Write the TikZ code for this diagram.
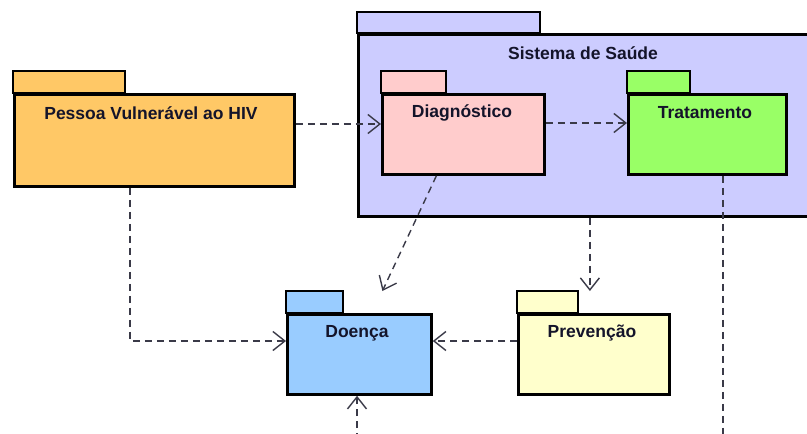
\documentclass[tikz,border=0pt]{standalone}
\usepackage{fontspec}
\setmainfont{Liberation Sans}
\usetikzlibrary{arrows.meta}

\definecolor{pkgOrange}{HTML}{FFC866}
\definecolor{pkgLilac}{HTML}{CCCCFF}
\definecolor{pkgPink}{HTML}{FFCCCC}
\definecolor{pkgGreen}{HTML}{99FF66}
\definecolor{pkgBlue}{HTML}{99CCFF}
\definecolor{pkgCream}{HTML}{FFFFCC}
\definecolor{inkDark}{HTML}{14142A}
\definecolor{depLine}{HTML}{3A3A48}

\tikzset{
  pkgbody/.style={draw=black, line width=2.8pt, rectangle, inner sep=0pt,
    anchor=north west},
  pkgtab/.style={draw=black, line width=2.8pt},
  pkgtitle/.style={font=\fontsize{17.5}{20}\selectfont\bfseries, text=inkDark,
    inner sep=0pt},
  dep/.style={draw=depLine, line width=1.4pt, dash pattern=on 7pt off 5pt,
    -{Straight Barb[length=12pt,width=19pt,line width=1.4pt]}},
  depplain/.style={draw=depLine, line width=1.4pt, dash pattern=on 7pt off 5pt},
}

\begin{document}
\begin{tikzpicture}[x=1pt,y=-1pt]
  \fill[white] (0,0) rectangle (807,434);
  \useasboundingbox (0,0) rectangle (807,434);
  \clip (0,0) rectangle (807,434);

  % outer package: Sistema de Saude
  \draw[pkgtab, fill=pkgLilac] (357,33) rectangle (540,12);
  \node[pkgbody, fill=pkgLilac, minimum width=480pt, minimum height=182pt]
    (sistema) at (357,33) {};
  \node[pkgtitle] (sistemaT) at (583,53) {Sistema de Saúde};

  % Pessoa Vulneravel ao HIV
  \draw[pkgtab, fill=pkgOrange] (13,93) rectangle (125,71);
  \node[pkgbody, fill=pkgOrange, minimum width=280pt, minimum height=92pt]
    (pessoa) at (13,93) {};
  \node[pkgtitle] (pessoaT) at (151,113) {Pessoa Vulnerável ao HIV};

  % Diagnostico
  \draw[pkgtab, fill=pkgPink] (381,93) rectangle (446,71);
  \node[pkgbody, fill=pkgPink, minimum width=162pt, minimum height=80pt]
    (diag) at (381,93) {};
  \node[pkgtitle] (diagT) at (462,113) {Diagnóstico};

  % Tratamento
  \draw[pkgtab, fill=pkgGreen] (627,93) rectangle (690,71);
  \node[pkgbody, fill=pkgGreen, minimum width=158pt, minimum height=80pt]
    (trat) at (627,93) {};
  \node[pkgtitle] (tratT) at (705,113) {Tratamento};

  % Doenca
  \draw[pkgtab, fill=pkgBlue] (286,313) rectangle (343,291);
  \node[pkgbody, fill=pkgBlue, minimum width=144pt, minimum height=80pt]
    (doenca) at (286,313) {};
  \node[pkgtitle] (doencaT) at (357,333) {Doença};

  % Prevencao
  \draw[pkgtab, fill=pkgCream] (517,313) rectangle (578,291);
  \node[pkgbody, fill=pkgCream, minimum width=151pt, minimum height=80pt]
    (prev) at (517,313) {};
  \node[pkgtitle] (prevT) at (592,333) {Prevenção};

  % dependencies
  \draw[dep] ([yshift=-31pt]pessoa.north east) -- ([yshift=-31pt]diag.north west);
  \draw[dep] ([yshift=-30pt]diag.north east) -- ([yshift=-30pt]trat.north west);
  \draw[dep] ([xshift=-27pt]diag.south) -- ([xshift=23pt,yshift=22pt]doenca.north);
  \coordinate (prevIn) at ([xshift=-4pt,yshift=22pt]prev.north);
  \draw[dep] (sistema.south -| prevIn) -- (prevIn);
  \draw[dep] ([xshift=117pt]pessoa.south west) |- ([yshift=-28pt]doenca.north west);
  \draw[dep] ([yshift=-28pt]prev.north west) -- ([yshift=-28pt]doenca.north east);
  \coordinate (tratOut) at (723,440);
  \draw[depplain] (trat.south -| tratOut) -- (tratOut);
  \coordinate (doencaIn) at (357,440);
  \draw[dep] (doencaIn) -- (doenca.south -| doencaIn);
\end{tikzpicture}
\end{document}
